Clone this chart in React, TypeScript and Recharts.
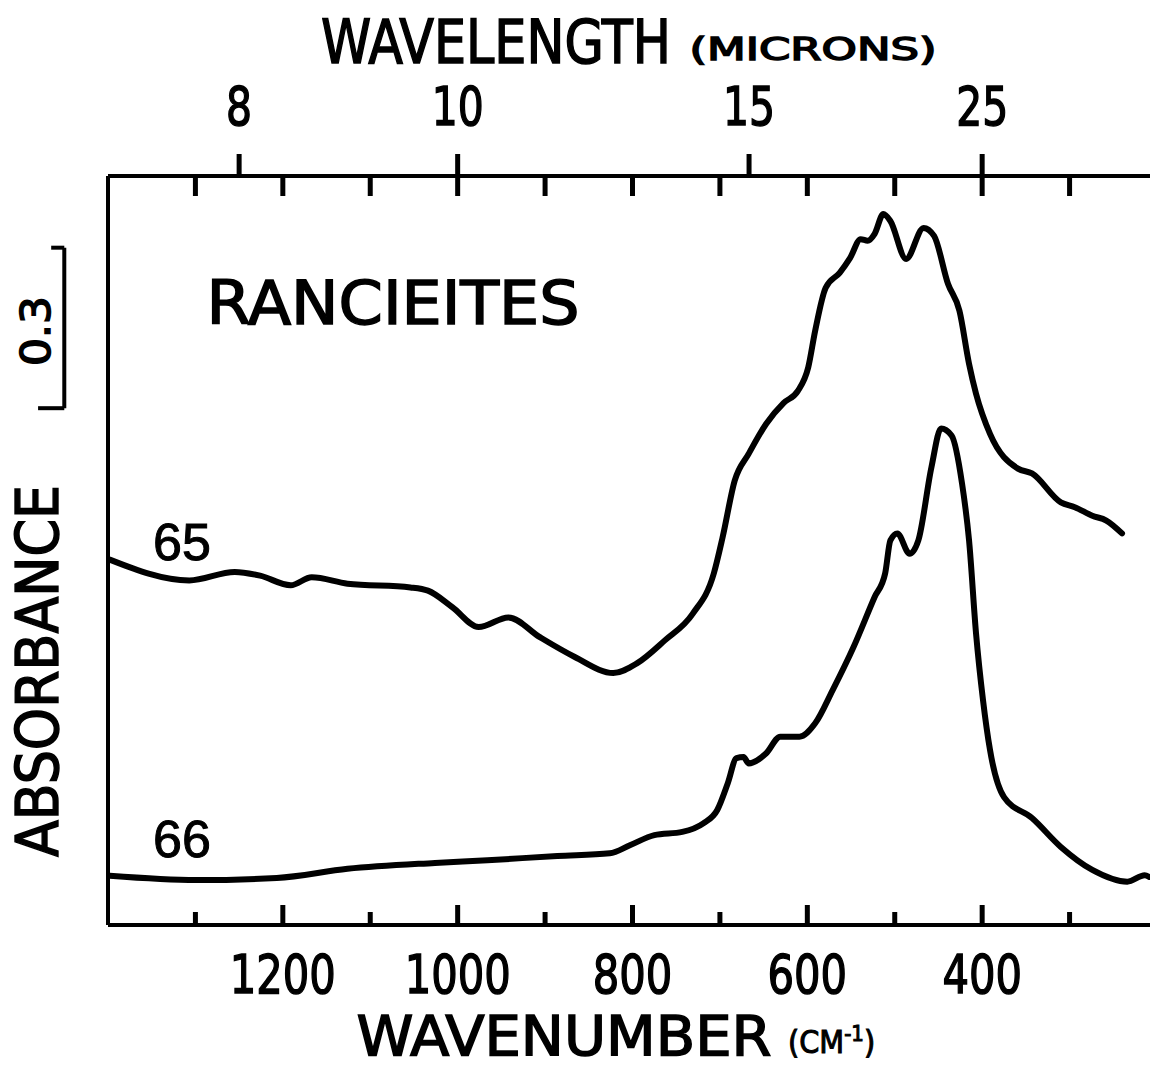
import { LineChart, Line, XAxis, YAxis, ReferenceLine } from 'recharts';

// sample 65 (upper trace): wavenumber (cm-1) and absorbance
const NU_65 = [
  1398, 1307, 1255, 1226, 1191, 1167, 1126, 1054, 1034, 1006, 976, 942, 906, 866, 822, 795, 763, 731, 707, 697,
  683, 667, 647, 627, 611, 599, 591, 579, 563, 551, 539, 531, 523, 513, 505, 487, 467, 455, 439, 426, 415, 407,
  391, 359, 343, 310, 294, 274, 258, 240,
];
const A_65 = [
  0.683, 0.644, 0.66, 0.653, 0.635, 0.65, 0.638, 0.631, 0.625, 0.594, 0.557, 0.575, 0.538, 0.501, 0.471, 0.489,
  0.532, 0.582, 0.657, 0.724, 0.831, 0.881, 0.937, 0.976, 0.998, 1.042, 1.111, 1.191, 1.219, 1.247, 1.282, 1.279,
  1.292, 1.329, 1.316, 1.245, 1.303, 1.288, 1.198, 1.148, 1.049, 0.993, 0.918, 0.853, 0.844, 0.79, 0.781, 0.765,
  0.756, 0.732,
];

// sample 66 (lower trace)
const NU_66 = [
  1398, 1299, 1207, 1126, 1026, 966, 886, 826, 803, 775, 743, 719, 703, 691, 681, 673, 667, 647, 631, 609, 591,
  571, 547, 523, 511, 505, 497, 483, 473, 458, 447, 435, 423, 415, 407, 399, 391, 375, 343, 310, 274, 234, 214, 209,
];
const A_66 = [
  0.092, 0.084, 0.088, 0.105, 0.116, 0.121, 0.129, 0.134, 0.149, 0.168, 0.174, 0.19, 0.215, 0.265, 0.312, 0.314,
  0.302, 0.321, 0.352, 0.352, 0.377, 0.439, 0.52, 0.613, 0.657, 0.719, 0.732, 0.694, 0.719, 0.856, 0.928, 0.915,
  0.825, 0.719, 0.545, 0.42, 0.327, 0.239, 0.2, 0.146, 0.103, 0.081, 0.093, 0.09,
];

const WAVENUMBER_TICKS = [1300, 1200, 1100, 1000, 900, 800, 700, 600, 500, 400, 300];
const WAVENUMBER_LABELS = [1200, 1000, 800, 600, 400];
const WAVELENGTH_LABELS = [8, 10, 15, 25];
const SCALE_BAR = 0.3;
const SCALE_BAR_BASE = 0.966;

const W = 1150;
const H = 1069;
const PLOT_TOP = 176;
const PLOT_BOTTOM = 925;
const PLOT_LEFT = 108;
const FONT = "'Liberation Sans Narrow', 'DejaVu Sans Condensed', 'DejaVu Sans', sans-serif";

const data65 = NU_65.map((nu, i) => ({ nu, a: A_65[i] }));
const data66 = NU_66.map((nu, i) => ({ nu, a: A_66[i] }));
const topTicks = Array.from(new Set([...WAVENUMBER_TICKS, ...WAVELENGTH_LABELS.map((w) => 1e4 / w)]));

function PlotText({ x, y, size, len, rotate, children }: any) {
  return (
    <text
      x={x}
      y={y}
      fontFamily={FONT}
      fontSize={size}
      textAnchor="middle"
      textLength={len}
      lengthAdjust="spacingAndGlyphs"
      fill="#000"
      stroke="#000"
      strokeWidth={1.4}
      transform={rotate ? `rotate(-90 ${x} ${y})` : undefined}
    >
      {children}
    </text>
  );
}

function BottomTick({ x, payload }: any) {
  const v = payload.value;
  const major = WAVENUMBER_LABELS.includes(v);
  return (
    <g>
      <line x1={x} x2={x} y1={PLOT_BOTTOM} y2={PLOT_BOTTOM - (major ? 20 : 13)} stroke="#000" strokeWidth={5} />
      {major && (
        <PlotText x={x} y={993} size={54} len={String(v).length * 26.5}>
          {v}
        </PlotText>
      )}
    </g>
  );
}

function TopTick({ x, payload }: any) {
  const v = payload.value;
  const inner = WAVENUMBER_TICKS.includes(v);
  const um = WAVELENGTH_LABELS.find((w) => Math.abs(1e4 / w - v) < 0.01);
  return (
    <g>
      {inner && <line x1={x} x2={x} y1={PLOT_TOP} y2={PLOT_TOP + 20} stroke="#000" strokeWidth={5} />}
      {um !== undefined && (
        <>
          <line x1={x} x2={x} y1={PLOT_TOP} y2={PLOT_TOP - 22} stroke="#000" strokeWidth={5} />
          <PlotText x={x} y={125} size={54} len={String(um).length * 26}>
            {um}
          </PlotText>
        </>
      )}
    </g>
  );
}

export default function App() {
  const frame = { stroke: '#000', strokeWidth: 4 };
  return (
    <div style={{ position: 'fixed', left: 0, top: 0, width: W, height: H, background: '#fff', overflow: 'hidden' }}>
      <LineChart
        width={W}
        height={H}
        margin={{ top: PLOT_TOP - 1, right: 0, bottom: H - PLOT_BOTTOM - 1, left: PLOT_LEFT - 1 }}
      >
        <XAxis
          xAxisId="bottom"
          dataKey="nu"
          type="number"
          domain={[208, 1400]}
          reversed
          allowDataOverflow
          ticks={WAVENUMBER_TICKS}
          interval={0}
          height={1}
          tickSize={0}
          tickLine={false}
          axisLine={frame}
          tick={<BottomTick />}
        />
        <XAxis
          xAxisId="top"
          orientation="top"
          dataKey="nu"
          type="number"
          domain={[208, 1400]}
          reversed
          allowDataOverflow
          ticks={topTicks}
          interval={0}
          height={1}
          tickSize={0}
          tickLine={false}
          axisLine={frame}
          tick={<TopTick />}
        />
        <YAxis type="number" domain={[0, 1.4]} width={1} tick={false} tickLine={false} axisLine={frame} />
        <Line
          xAxisId="bottom"
          data={data65}
          dataKey="a"
          type="monotone"
          stroke="#000"
          strokeWidth={6}
          strokeLinecap="round"
          strokeLinejoin="round"
          dot={false}
          isAnimationActive={false}
        />
        <Line
          xAxisId="bottom"
          data={data66}
          dataKey="a"
          type="monotone"
          stroke="#000"
          strokeWidth={6}
          strokeLinecap="round"
          strokeLinejoin="round"
          dot={false}
          isAnimationActive={false}
        />
        {/* 0.3 absorbance scale bar, drawn left of the frame */}
        <ReferenceLine
          xAxisId="bottom"
          ifOverflow="visible"
          segment={[
            { x: 1450, y: SCALE_BAR_BASE },
            { x: 1450, y: SCALE_BAR_BASE + SCALE_BAR },
          ]}
          stroke="#000"
          strokeWidth={4}
        />
        <ReferenceLine
          xAxisId="bottom"
          ifOverflow="visible"
          segment={[
            { x: 1465, y: SCALE_BAR_BASE + SCALE_BAR },
            { x: 1450, y: SCALE_BAR_BASE + SCALE_BAR },
          ]}
          stroke="#000"
          strokeWidth={4}
        />
        <ReferenceLine
          xAxisId="bottom"
          ifOverflow="visible"
          segment={[
            { x: 1480, y: SCALE_BAR_BASE },
            { x: 1450, y: SCALE_BAR_BASE },
          ]}
          stroke="#000"
          strokeWidth={4}
        />
      </LineChart>
      <svg width={W} height={H} style={{ position: 'absolute', left: 0, top: 0, pointerEvents: 'none' }}>
        <PlotText x={496} y={63} size={60} len={350}>
          WAVELENGTH
        </PlotText>
        <PlotText x={813} y={60} size={32} len={247}>
          (MICRONS)
        </PlotText>
        <PlotText x={564} y={1055} size={56} len={415}>
          WAVENUMBER
        </PlotText>
        <text x={788} y={1053} fontFamily={FONT} fontSize={32} fill="#000" stroke="#000" strokeWidth={1}>
          (CM
          <tspan fontSize={22} dy={-12}>
            -1
          </tspan>
          <tspan dy={12}>)</tspan>
        </text>
        <PlotText x={393} y={324} size={60} len={373}>
          RANCIEITES
        </PlotText>
        <PlotText x={58} y={671} size={58} len={372} rotate>
          ABSORBANCE
        </PlotText>
        <PlotText x={50} y={331} size={40} len={70} rotate>
          0.3
        </PlotText>
        <text x={153} y={560} fontFamily="'Liberation Sans', Arial, sans-serif" fontSize={52} fill="#000" stroke="#000" strokeWidth={1}>
          65
        </text>
        <text x={153} y={857} fontFamily="'Liberation Sans', Arial, sans-serif" fontSize={52} fill="#000" stroke="#000" strokeWidth={1}>
          66
        </text>
      </svg>
    </div>
  );
}
